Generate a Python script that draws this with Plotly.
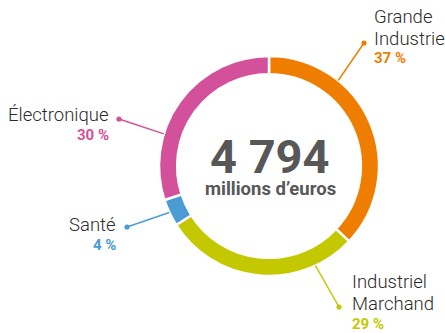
import math
import plotly.graph_objects as go

# Répartition du chiffre d'affaires par marché
segments = ["Grande Industrie", "Industriel Marchand", "Santé", "Électronique"]
label_lines = [["Grande", "Industrie"], ["Industriel", "Marchand"], ["Santé"], ["Électronique"]]
shares = [37, 29, 4, 30]
colors = ["#EF7D00", "#C4C800", "#4A9CD3", "#D3509A"]
total_label = "4 794"
unit_label = "millions d\u2019euros"

W, H = 445, 333
CX, CY, R = 269, 166, 110


def px(x):
    return x / W


def py(y):
    return 1 - y / H


fig = go.Figure()
fig.add_trace(go.Pie(
    labels=segments,
    values=shares,
    marker=dict(colors=colors, line=dict(color="white", width=2.5)),
    hole=0.835,
    sort=False,
    direction="clockwise",
    rotation=0,
    textinfo="none",
    hoverinfo="skip",
    showlegend=False,
    domain=dict(x=[(CX - R) / W, (CX + R) / W],
                y=[(H - CY - R) / H, (H - CY + R) / H]),
))

# Leader lines: angle on the ring (degrees clockwise from top), end dot, text anchor
leaders = [
    dict(angle=39, dot=(364, 43), tx=372, ty=17, align="left"),
    dict(angle=155, dot=(339, 307), tx=350, ty=282, align="left"),
    dict(angle=245, dot=(127, 227), tx=118, ty=225, align="right"),
    dict(angle=287, dot=(119, 119), tx=111, ty=115, align="right"),
]

annotations = []
shapes = []
for i, ld in enumerate(leaders):
    a = math.radians(ld["angle"])
    x0 = CX + R * math.sin(a)
    y0 = CY - R * math.cos(a)
    dx, dy = ld["dot"]
    shapes.append(dict(type="line", xref="paper", yref="paper",
                       x0=px(x0), y0=py(y0), x1=px(dx), y1=py(dy),
                       line=dict(color=colors[i], width=1.5), layer="above"))
    rd = 2.6
    shapes.append(dict(type="circle", xref="paper", yref="paper",
                       x0=px(dx - rd), y0=py(dy - rd), x1=px(dx + rd), y1=py(dy + rd),
                       fillcolor=colors[i], line=dict(width=0), layer="above"))
    xanchor = "left" if ld["align"] == "left" else "right"
    y = ld["ty"]
    for line in label_lines[i]:
        annotations.append(dict(xref="paper", yref="paper", x=px(ld["tx"]), y=py(y),
                                text=line, showarrow=False,
                                xanchor=xanchor, yanchor="middle",
                                font=dict(family="Roboto", size=18.5, color="#2b2b2b", weight=300)))
        y += 21.5
    annotations.append(dict(xref="paper", yref="paper", x=px(ld["tx"]), y=py(y - 1.5),
                            text=f"{shares[i]} %", showarrow=False,
                            xanchor=xanchor, yanchor="middle",
                            font=dict(family="Roboto", size=15, color=colors[i], weight=700)))

annotations.append(dict(xref="paper", yref="paper", x=px(CX + 1), y=py(157),
                        text=total_label, showarrow=False,
                        xanchor="center", yanchor="middle",
                        font=dict(family="Roboto", size=47, color="#575757", weight=700)))
annotations.append(dict(xref="paper", yref="paper", x=px(CX + 1), y=py(189),
                        text=unit_label, showarrow=False,
                        xanchor="center", yanchor="middle",
                        font=dict(family="Roboto", size=18.5, color="#575757", weight=700)))

fig.update_layout(
    width=W, height=H,
    margin=dict(l=0, r=0, t=0, b=0),
    paper_bgcolor="white", plot_bgcolor="white",
    shapes=shapes,
    annotations=annotations,
)

fig.write_html("out.html")
